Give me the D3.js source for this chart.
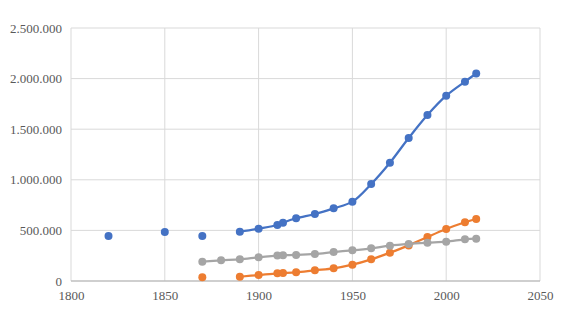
<!DOCTYPE html>
<html>
<head>
<meta charset="utf-8">
<script src="https://cdn.jsdelivr.net/npm/d3@7"></script>
<style>
  body { margin: 0; background: #fff; }
  svg { display: block; }
</style>
</head>
<body>
<div id="chart"></div>
<script>
// values, null = gap in the line
const years = [1820, 1830, 1850, 1860, 1870, 1880, 1890, 1900, 1910, 1913, 1920, 1930, 1940, 1950, 1960, 1970, 1980, 1990, 2000, 2010, 2016];
const blueValues = [445000, null, 484000, null, 445000, null, 487000, 517000, 553000, 576000, 620000, 662000, 718000, 784000, 958000, 1169000, 1413000, 1640000, 1831000, 1970000, 2050000];
const orangeValues = [null, null, null, null, 36000, null, 42000, 59000, 76000, 79000, 86000, 106000, 125000, 161000, 214000, 280000, 352000, 435000, 514000, 580000, 613000];
const grayValues = [null, null, null, null, 191000, 204000, 214000, 234000, 251000, 255000, 258000, 267000, 286000, 303000, 323000, 349000, 366000, 378000, 388000, 412000, 418000];
const xTicks = [1800, 1850, 1900, 1950, 2000, 2050];
const yTicks = [0, 500000, 1000000, 1500000, 2000000, 2500000];

const series = [
  { name: "blue", values: blueValues, color: "#4472C4" },
  { name: "orange", values: orangeValues, color: "#ED7D31" },
  { name: "gray", values: grayValues, color: "#A5A5A5" }
];

const width = 575, height = 314;
const plot = { left: 71, right: 540, top: 28, bottom: 281 };

const svg = d3.select("#chart").append("svg")
  .attr("width", width)
  .attr("height", height);

const x = d3.scaleLinear().domain([1800, 2050]).range([plot.left, plot.right]);
const y = d3.scaleLinear().domain([0, 2500000]).range([plot.bottom, plot.top]);

const de = d3.formatLocale({ decimal: ",", thousands: ".", grouping: [3], currency: ["", ""] });
const fmt = de.format(",d");

// gridlines
svg.append("g")
  .selectAll("line")
  .data(yTicks.slice(1))
  .join("line")
  .attr("x1", plot.left).attr("x2", plot.right)
  .attr("y1", d => y(d)).attr("y2", d => y(d))
  .attr("stroke", "#d9d9d9").attr("stroke-width", 1);

svg.append("g")
  .selectAll("line")
  .data(xTicks)
  .join("line")
  .attr("x1", d => x(d)).attr("x2", d => x(d))
  .attr("y1", plot.top).attr("y2", plot.bottom)
  .attr("stroke", "#d9d9d9").attr("stroke-width", 1);

// bottom axis line
svg.append("line")
  .attr("x1", plot.left).attr("x2", plot.right)
  .attr("y1", y(0)).attr("y2", y(0))
  .attr("stroke", "#bfbfbf").attr("stroke-width", 1.5);

// axis labels
const yAxis = svg.append("g")
  .attr("transform", `translate(${plot.left},0)`)
  .call(d3.axisLeft(y).tickValues(yTicks).tickFormat(fmt).tickSize(0).tickPadding(9));
const xAxis = svg.append("g")
  .attr("transform", `translate(0,${plot.bottom})`)
  .call(d3.axisBottom(x).tickValues(xTicks).tickFormat(d3.format("d")).tickSize(0).tickPadding(10));

[yAxis, xAxis].forEach(g => {
  g.select(".domain").remove();
  g.selectAll("text")
    .style("font-family", "'Liberation Serif', 'Times New Roman', serif")
    .style("font-size", "13px")
    .attr("fill", "#595959");
});

// lines + markers
const line = d3.line()
  .defined(d => d.v != null)
  .x(d => x(d.year))
  .y(d => y(d.v))
  .curve(d3.curveCatmullRom.alpha(0.5));

series.forEach(s => {
  const pts = years.map((yr, i) => ({ year: yr, v: s.values[i] }));
  svg.append("path")
    .datum(pts)
    .attr("fill", "none")
    .attr("stroke", s.color)
    .attr("stroke-width", 2.25)
    .attr("d", line);

  svg.append("g")
    .selectAll("circle")
    .data(pts.filter(d => d.v != null))
    .join("circle")
    .attr("cx", d => x(d.year))
    .attr("cy", d => y(d.v))
    .attr("r", 4)
    .attr("fill", s.color);
});
</script>
</body>
</html>
